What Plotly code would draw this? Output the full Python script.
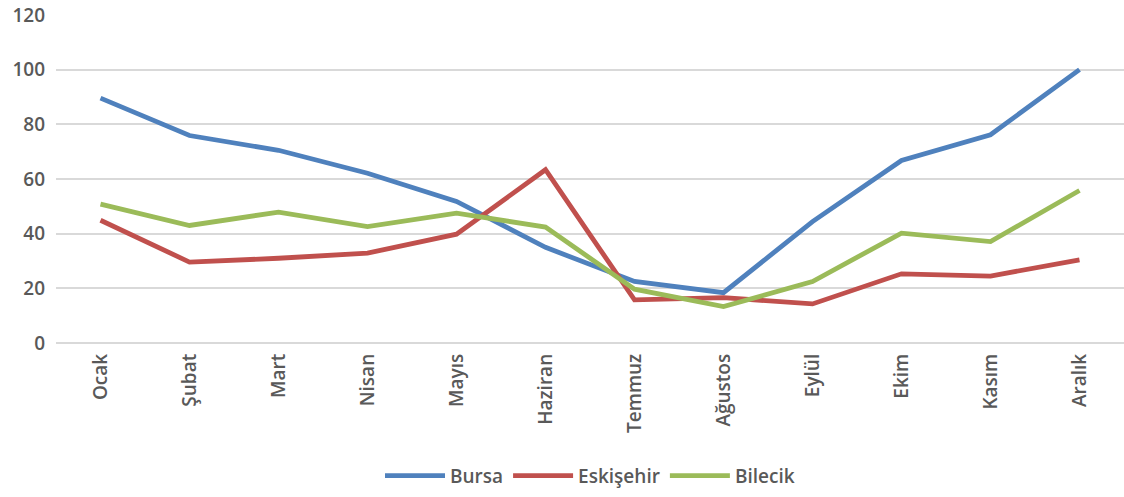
import plotly.graph_objects as go

months = ["Ocak", "Şubat", "Mart", "Nisan", "Mayıs", "Haziran", "Temmuz",
          "Ağustos", "Eylül", "Ekim", "Kasım", "Aralık"]
bursa = [89.6, 75.9, 70.5, 62.1, 51.8, 35.0, 22.5, 18.4, 44.4, 66.8, 76.2, 100.0]
eskisehir = [44.9, 29.6, 31.0, 32.9, 39.8, 63.4, 15.8, 16.6, 14.3, 25.3, 24.5, 30.4]
bilecik = [50.8, 43.0, 47.9, 42.6, 47.5, 42.4, 19.7, 13.3, 22.5, 40.2, 37.1, 55.8]

series = [("Bursa", bursa, "#4f81bd"),
          ("Eskişehir", eskisehir, "#c0504d"),
          ("Bilecik", bilecik, "#9bbb59")]

FONT = "Open Sans, Noto Sans, DejaVu Sans, sans-serif"

fig = go.Figure()
for name, vals, color in series:
    fig.add_trace(go.Scatter(x=months, y=vals, name=name, mode="lines",
                             line=dict(color=color, width=4.8)))

fig.update_layout(
    width=1124, height=497,
    margin=dict(l=56, r=0, t=15, b=154),
    paper_bgcolor="white", plot_bgcolor="white",
    font=dict(family=FONT, color="#595959", size=19, weight=600),
    showlegend=True,
    legend=dict(orientation="h", x=0.5, xanchor="center", y=-0.405, yanchor="middle",
                font=dict(size=19, color="#595959", weight=600),
                itemwidth=60, tracegroupgap=0),
    xaxis=dict(type="category", range=[-0.5, 11.5], tickangle=-90, showgrid=False,
               showline=False, ticks="", automargin=False, ticklabelstandoff=6,
               tickfont=dict(size=19, color="#595959", weight=600)),
    yaxis=dict(range=[0, 120], dtick=20, showgrid=True, gridcolor="#d9d9d9", gridwidth=1.5,
               zeroline=True, zerolinecolor="#d9d9d9", zerolinewidth=1.5,
               showline=False, ticks="", ticklabelstandoff=10, automargin=False,
               ticklabeloverflow="allow",
               tickfont=dict(size=19, color="#595959", weight=600)),
)

fig.write_html("out.html", config={"displayModeBar": False},
               post_script="document.body.style.margin='0';document.body.style.padding='0';")
